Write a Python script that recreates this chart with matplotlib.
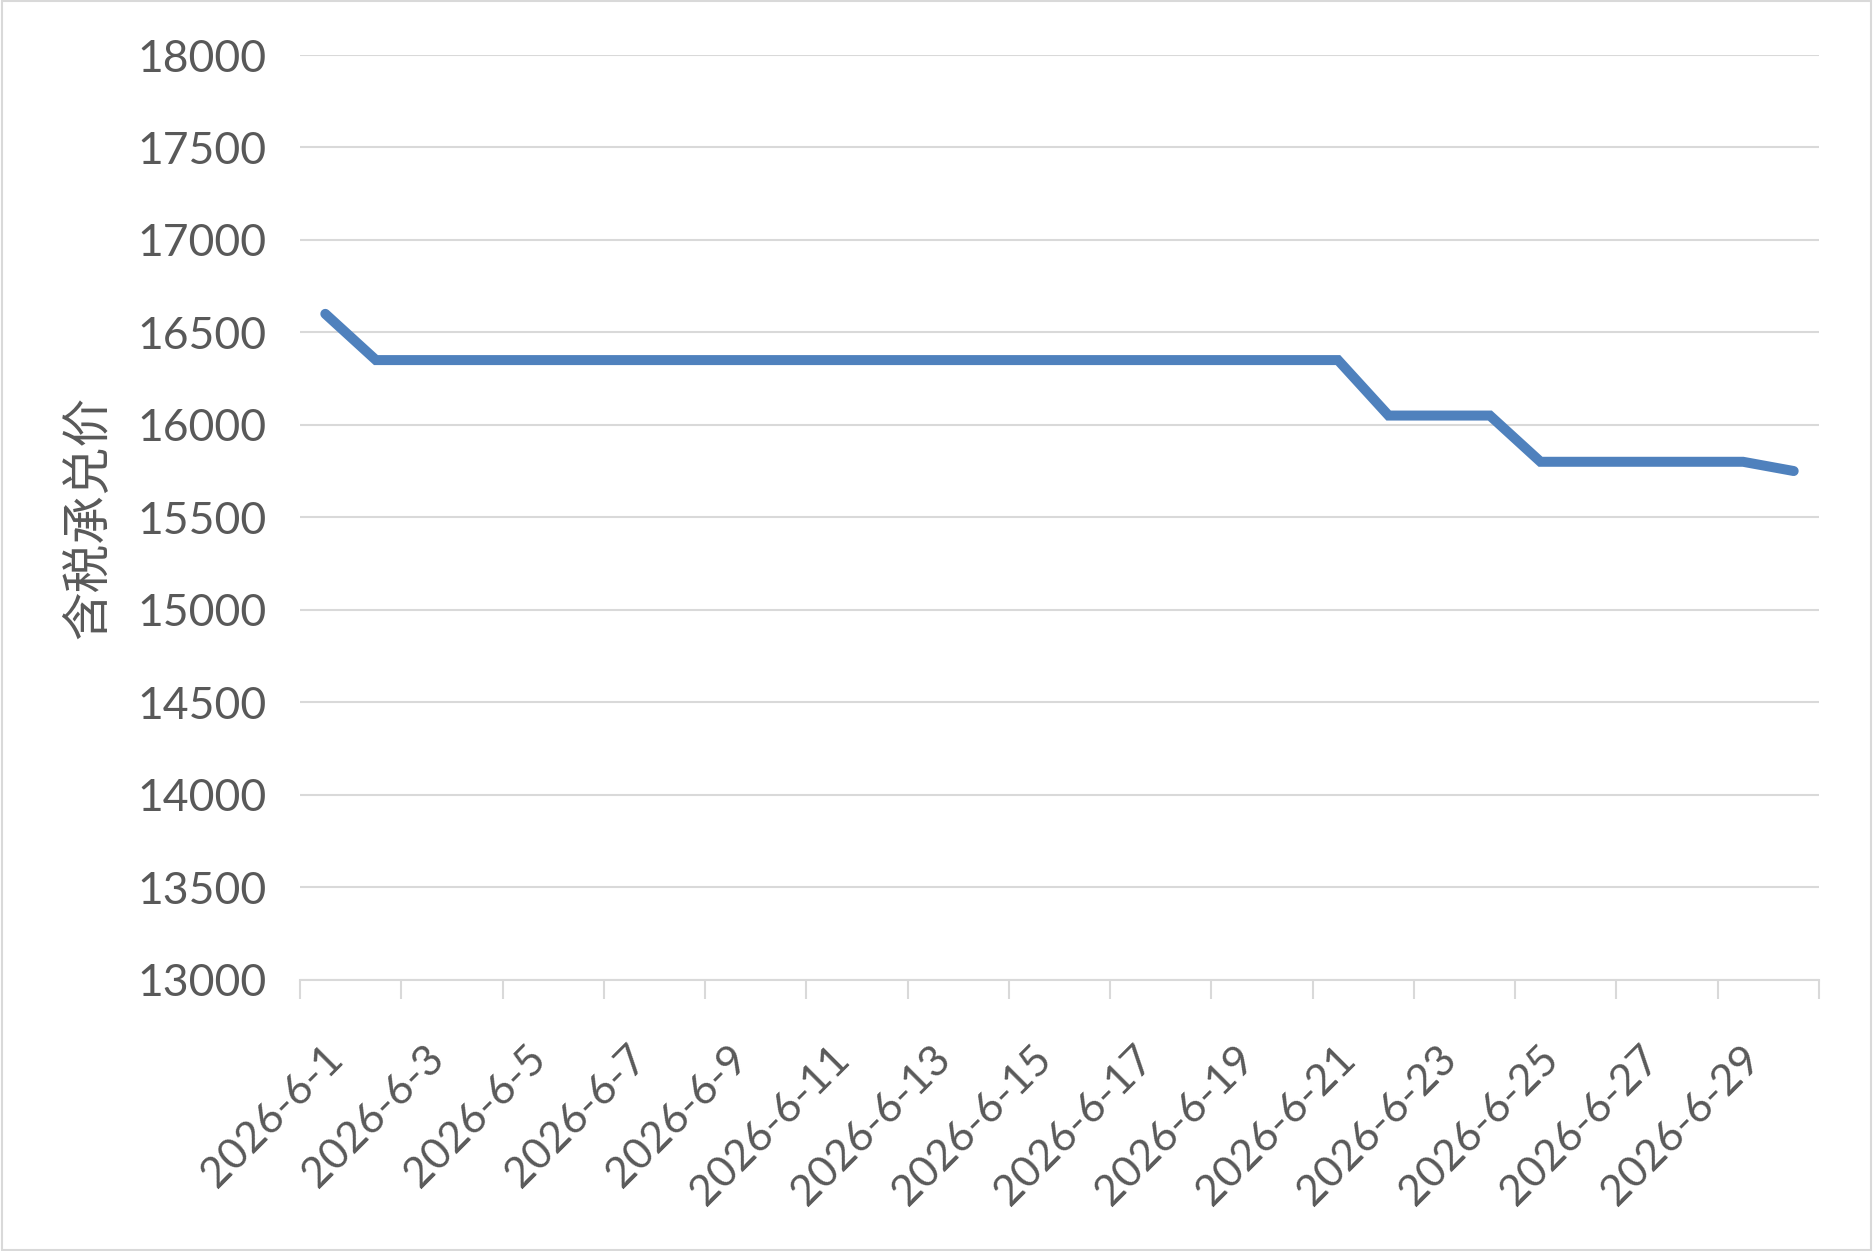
import numpy as np
import matplotlib
matplotlib.use('Agg')
import matplotlib.pyplot as plt
import matplotlib.transforms as mtransforms
from matplotlib.patches import Rectangle

# data: daily price, June 2026
dates = ['2026-6-%d' % d for d in range(1, 31)]
price = [16600,
         16350, 16350, 16350, 16350, 16350, 16350, 16350, 16350, 16350, 16350,
         16350, 16350, 16350, 16350, 16350, 16350, 16350, 16350, 16350, 16350,
         16050, 16050, 16050,
         15800, 15800, 15800, 15800, 15800,
         15750]
ylabel = '含税承兑价'
yticks = [13000, 13500, 14000, 14500, 15000, 15500, 16000, 16500, 17000, 17500, 18000]

textcol = '#595959'
gridcol = '#d9d9d9'
linecol = '#4f81bd'

plt.rcParams['font.family'] = ['Lato', 'DejaVu Sans']

fig = plt.figure(figsize=(18.73, 12.51), dpi=100)
ax = fig.add_axes([300/1873, 1 - 979.5/1251, (1819-300)/1873, (979.5-55)/1251])

x = np.arange(len(dates))
ax.plot(x, price, color=linecol, lw=7.2, solid_capstyle='round', solid_joinstyle='miter', zorder=3)

ax.set_xlim(-0.5, len(dates) - 0.5)
ax.set_ylim(yticks[0], yticks[-1])
ax.set_yticks(yticks)
ax.set_yticklabels([str(v) for v in yticks])
ax.grid(axis='y', color=gridcol, lw=1.5)
ax.set_axisbelow(True)

# tick marks between categories, labels every other day
ax.set_xticks(np.arange(-0.5, len(dates), 2))
ax.set_xticklabels([])
ax.set_xticks(x[::2], minor=True)
ax.set_xticklabels(dates[::2], minor=True, rotation=45, ha='right')
ax.tick_params(axis='x', which='major', length=14, width=1.5, color=gridcol, direction='out')
ax.tick_params(axis='x', which='minor', length=0, pad=43, labelsize=31, labelcolor=textcol)
ax.tick_params(axis='y', length=0, pad=24, labelsize=32, labelcolor=textcol)
off = mtransforms.ScaledTranslation(0.25, 0, fig.dpi_scale_trans)
for lab in ax.get_xticklabels(minor=True):
    lab.set_transform(lab.get_transform() + off)

for s in ['top', 'right', 'left']:
    ax.spines[s].set_visible(False)
ax.spines['bottom'].set_color(gridcol)
ax.spines['bottom'].set_linewidth(1.5)

fig.text(88/1873, 1 - 517/1251, ylabel, rotation=90, ha='center', va='center',
         fontsize=35, color=textcol, family=['Noto Sans CJK SC', 'DejaVu Sans'])

fig.patches.append(Rectangle((0.001, 0.001), 0.998, 0.998, transform=fig.transFigure,
                             fill=False, edgecolor=gridcol, lw=1.5))

plt.savefig('out.png', dpi=100)
